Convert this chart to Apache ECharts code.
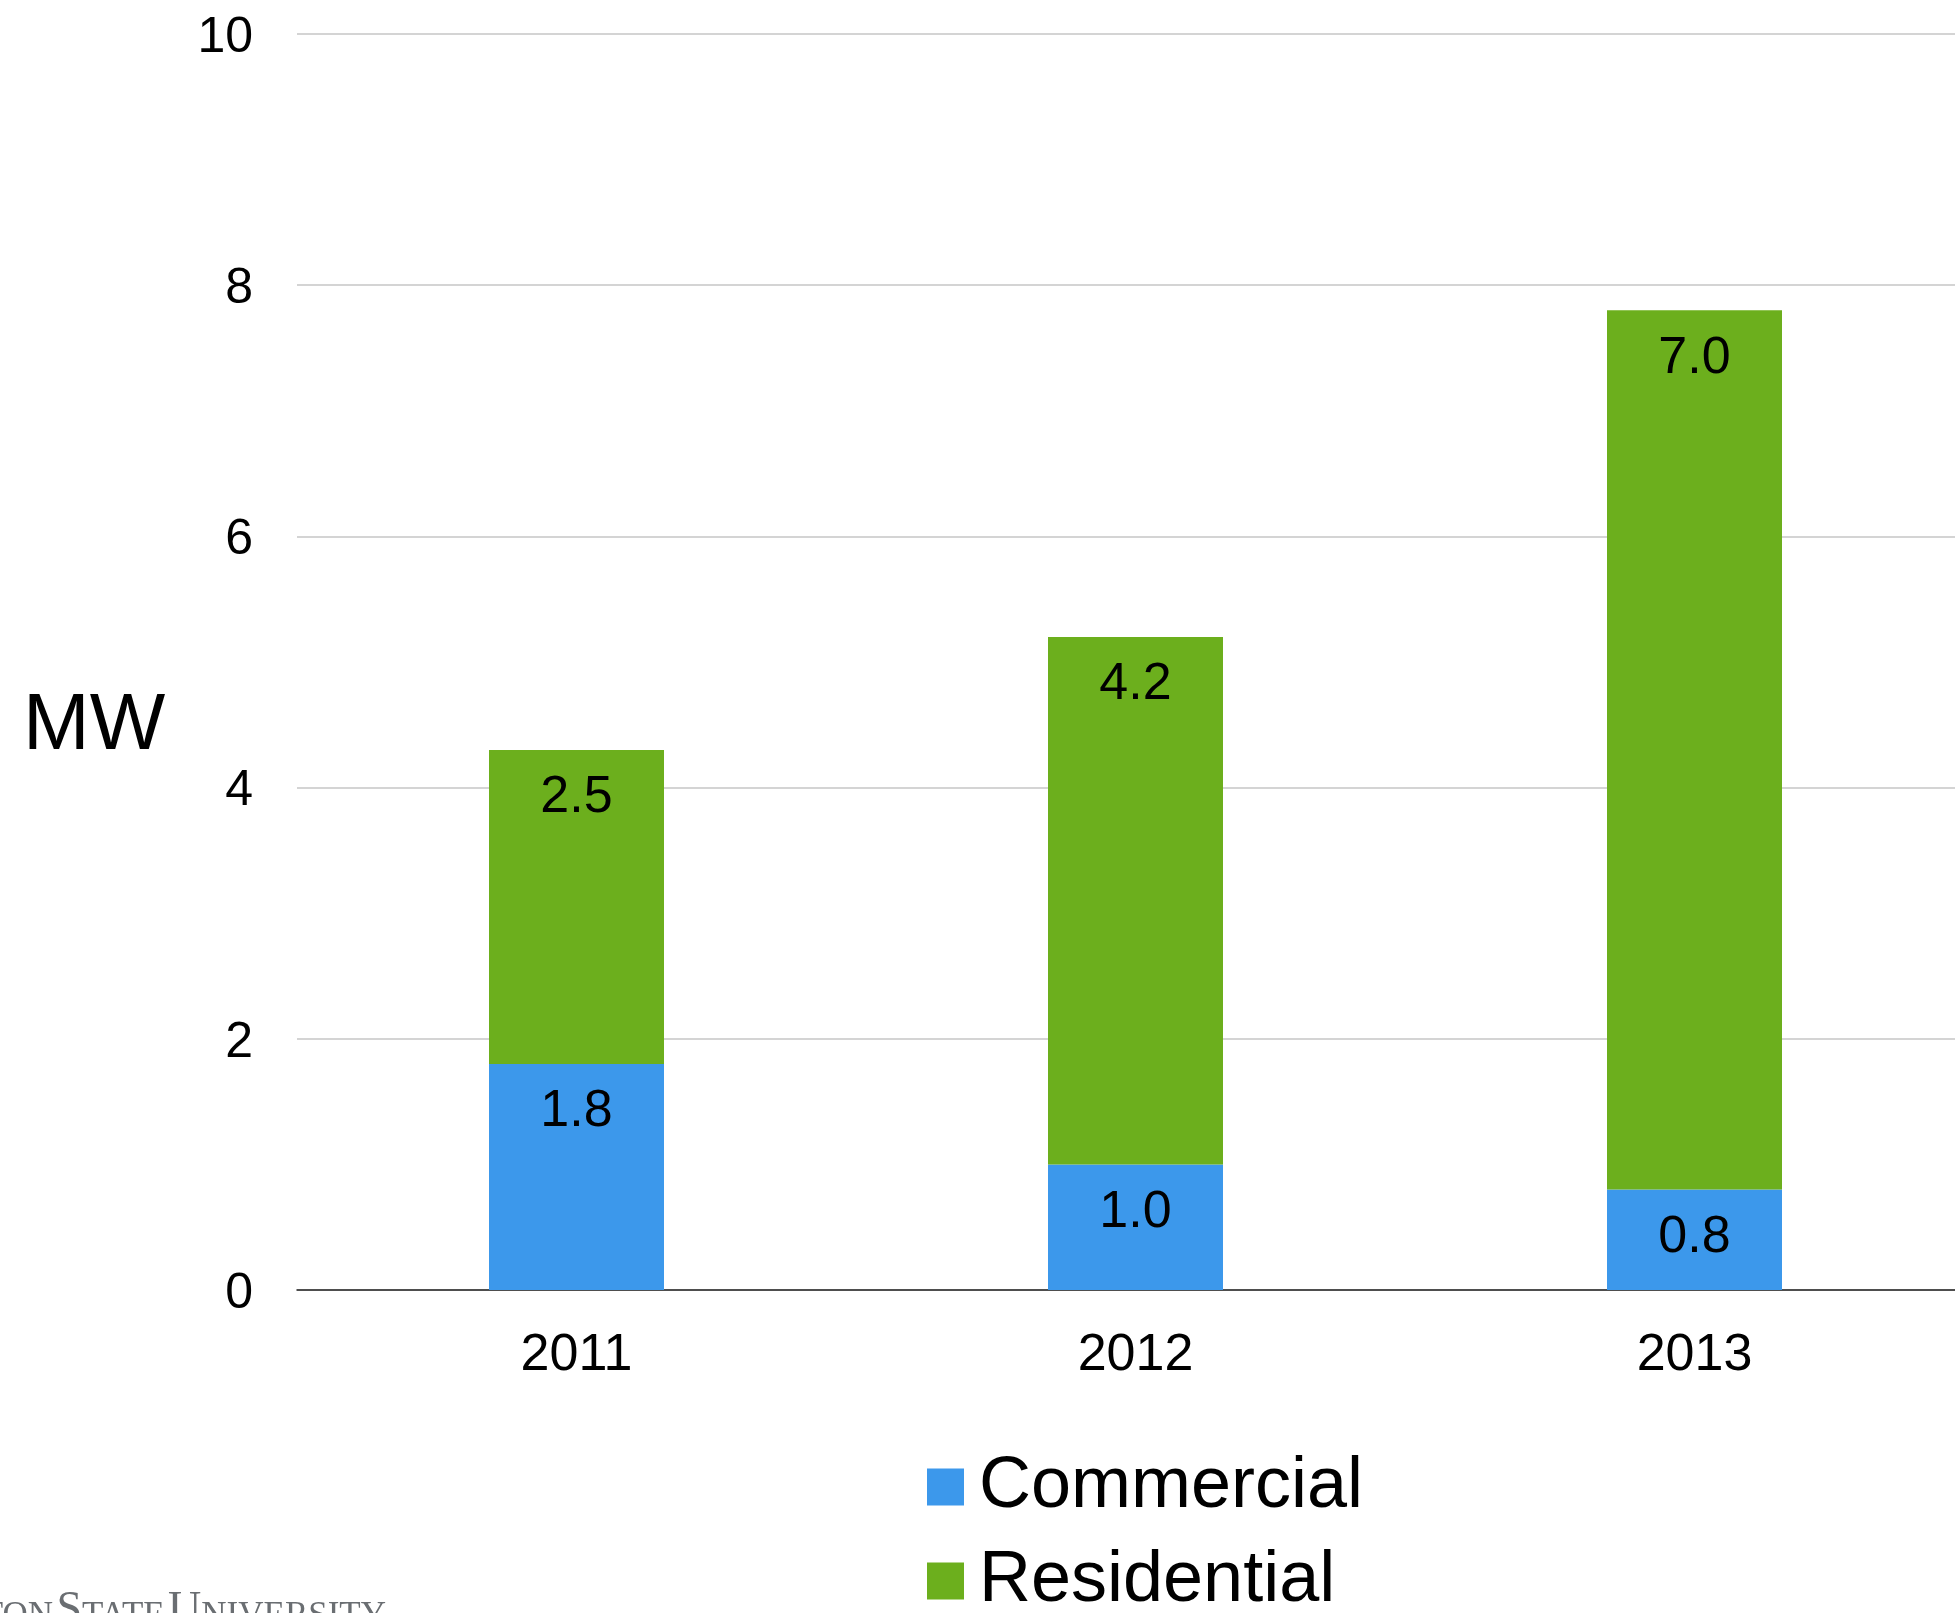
<!DOCTYPE html>
<html>
<head>
<meta charset="utf-8">
<script src="https://cdn.jsdelivr.net/npm/echarts@6/dist/echarts.min.js"></script>
<style>
html,body{margin:0;padding:0;background:#fff;}
#chart{width:1955px;height:1613px;}
</style>
</head>
<body>
<div id="chart"></div>
<script>
const categories = ['2011', '2012', '2013'];
const commercial = [1.8, 1.0, 0.8];
const residential = [2.5, 4.2, 7.0];
const yTicks = [0, 2, 4, 6, 8, 10];

const FONT = '"Liberation Sans", Arial, sans-serif';
const SERIF = '"Liberation Serif", "DejaVu Serif", serif';
const chart = echarts.init(document.getElementById('chart'));
chart.setOption({
  backgroundColor: '#ffffff',
  animation: false,
  grid: { left: 297, top: 34, width: 1677, height: 1256, containLabel: false, outerBoundsMode: 'none' },
  legend: {
    orient: 'vertical',
    left: 922,
    top: 1446,
    height: 400,
    itemWidth: 37,
    itemHeight: 37,
    itemGap: 22,
    icon: 'rect',
    textStyle: { fontFamily: FONT, fontSize: 72, color: '#000', padding: [0, 0, 0, 10] },
    data: ['Commercial', 'Residential']
  },
  xAxis: {
    type: 'category',
    data: categories,
    axisLine: { show: true, lineStyle: { color: '#222', width: 1.5 } },
    axisTick: { show: false },
    axisLabel: { fontFamily: FONT, fontSize: 52, color: '#000', margin: 40 }
  },
  yAxis: {
    type: 'value',
    min: yTicks[0],
    max: yTicks[yTicks.length - 1],
    interval: 2,
    axisLine: { show: false },
    axisTick: { show: false },
    axisLabel: { fontFamily: FONT, fontSize: 50, color: '#000', margin: 44, verticalAlign: 'top', lineHeight: 8 },
    splitLine: { lineStyle: { color: '#c6c6c6', width: 1.5 } }
  },
  series: [
    {
      name: 'Commercial',
      type: 'bar',
      stack: 'total',
      data: commercial,
      barWidth: 175,
      itemStyle: { color: '#3c98eb' },
      label: {
        show: true, position: 'insideTop', distance: 22,
        fontFamily: FONT, fontSize: 52, color: '#000',
        formatter: p => p.value.toFixed(1)
      }
    },
    {
      name: 'Residential',
      type: 'bar',
      stack: 'total',
      data: residential,
      barWidth: 175,
      itemStyle: { color: '#6caf1d' },
      label: {
        show: true, position: 'insideTop', distance: 22,
        fontFamily: FONT, fontSize: 52, color: '#000',
        formatter: p => p.value.toFixed(1)
      }
    }
  ],
  graphic: [
    {
      type: 'text', left: 23, top: 687,
      style: { text: 'MW', fontFamily: FONT, fontSize: 80, fill: '#000' }
    },
    {
      type: 'text', x: 386, y: 1588,
      style: {
        text: '{L|W}{s|ASHINGTON} {L|S}{s|TATE} {L|U}{s|NIVERSITY}',
        fill: '#6a6e72', align: 'right', verticalAlign: 'top',
        rich: {
          L: { fontFamily: SERIF, fontSize: 46, fill: '#6a6e72', verticalAlign: 'bottom' },
          s: { fontFamily: SERIF, fontSize: 35, fill: '#6a6e72', verticalAlign: 'bottom' }
        }
      }
    }
  ]
});
</script>
</body>
</html>
